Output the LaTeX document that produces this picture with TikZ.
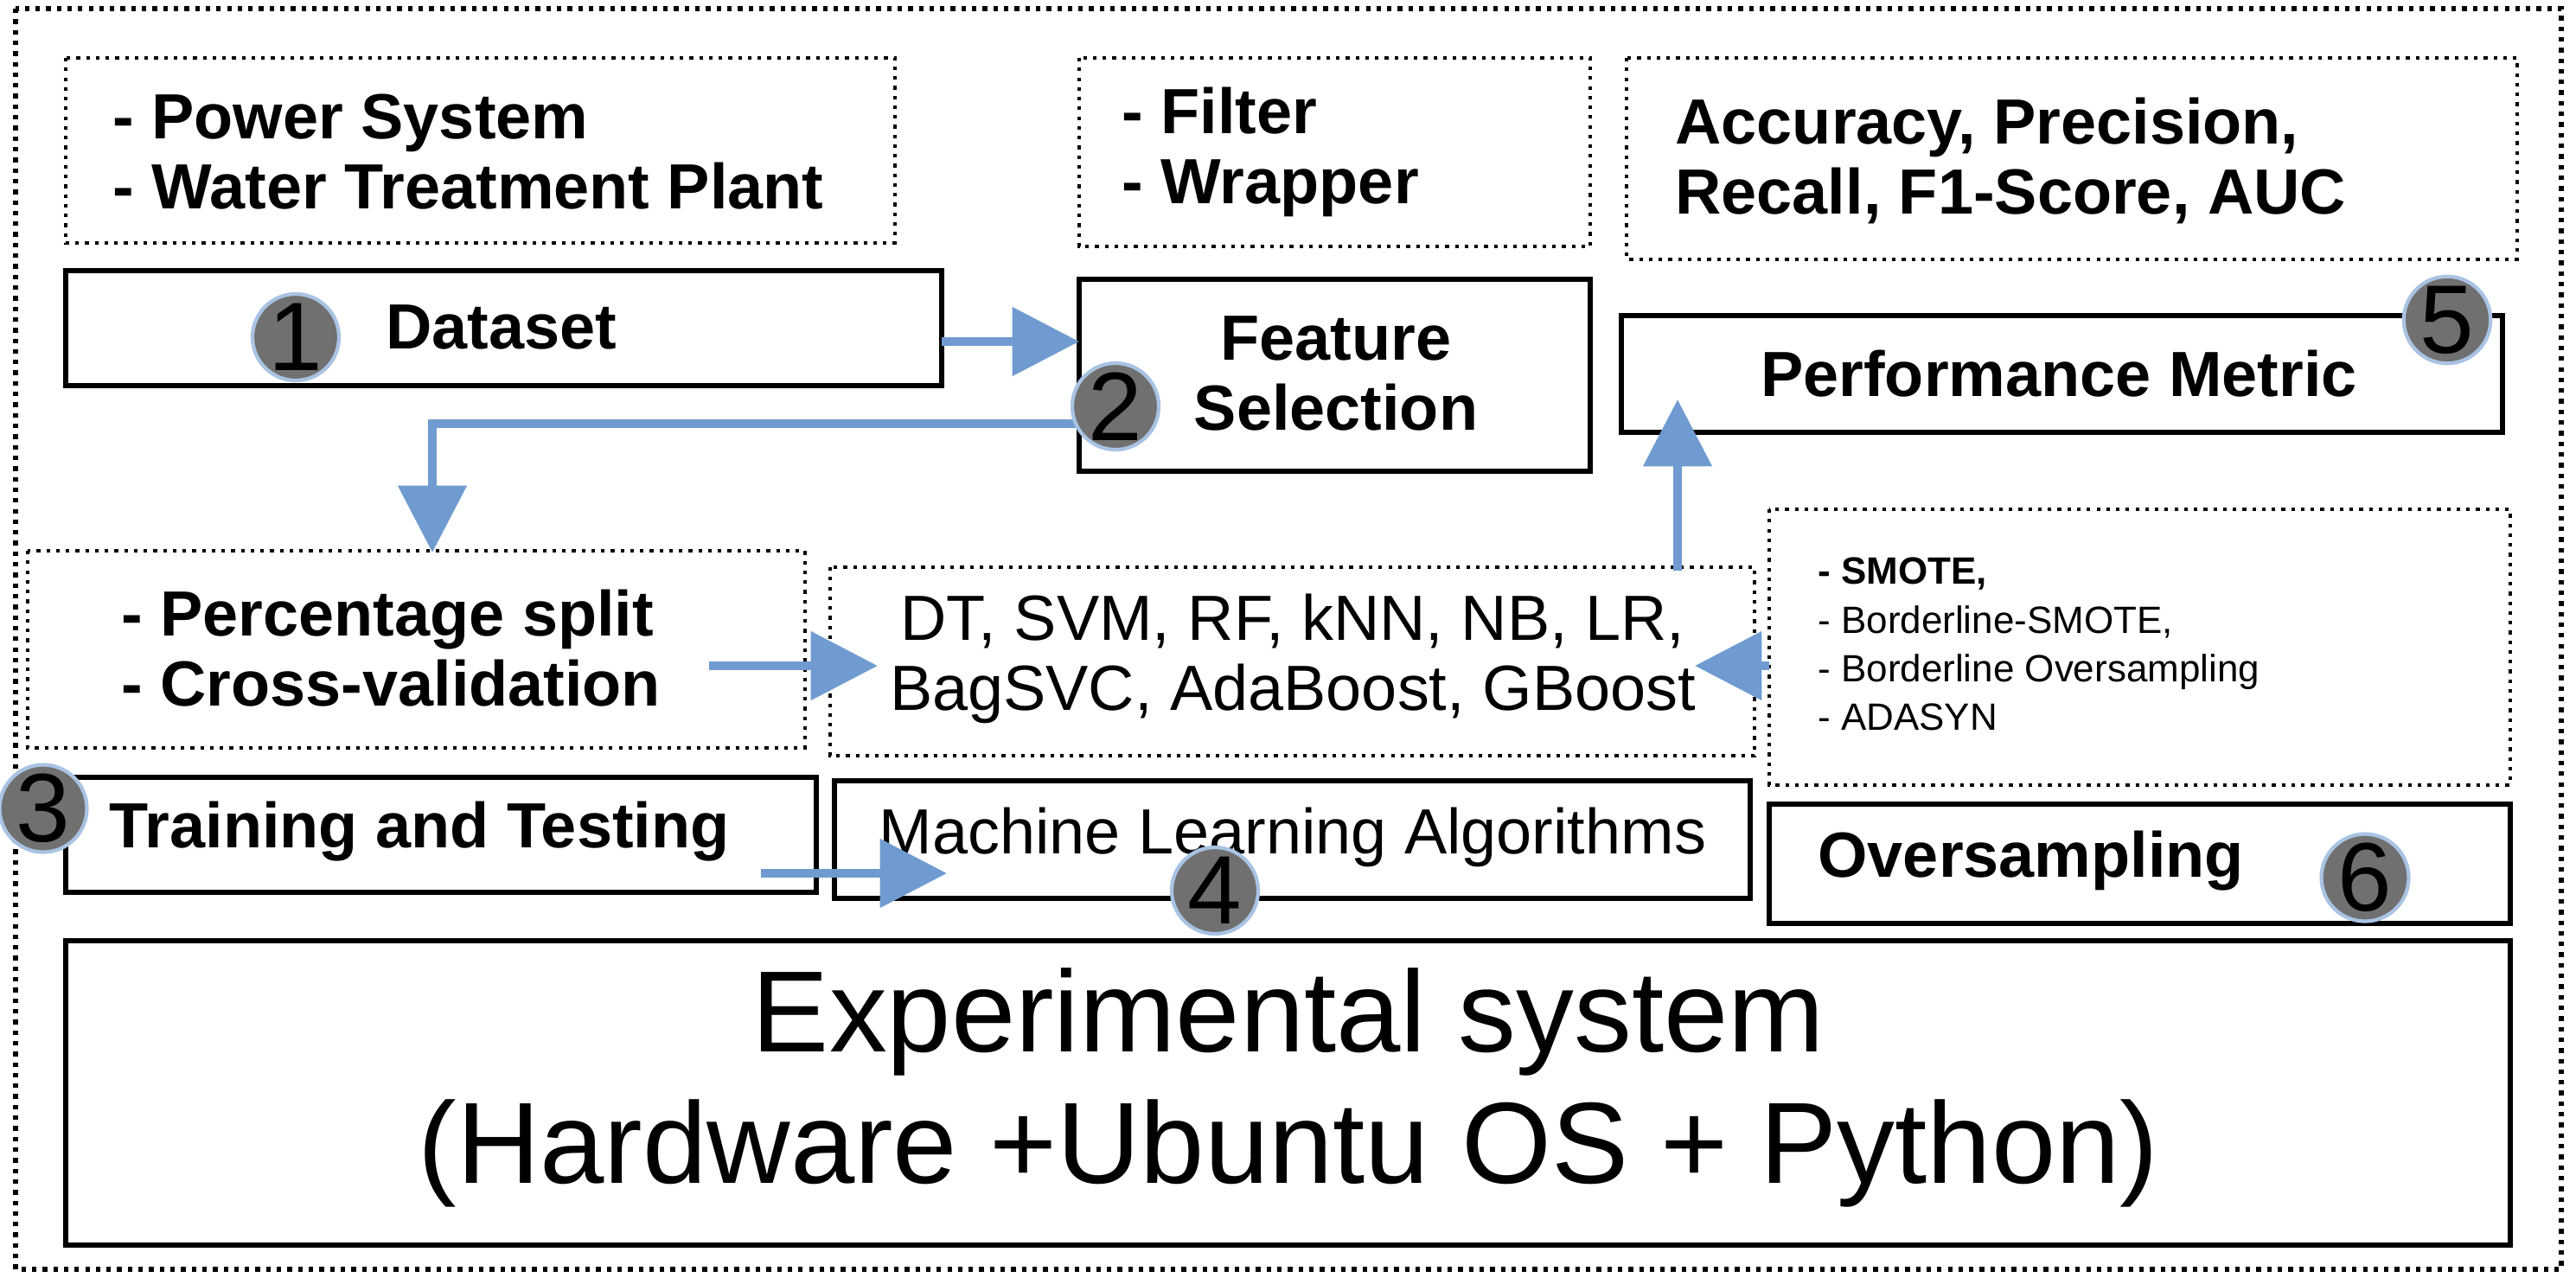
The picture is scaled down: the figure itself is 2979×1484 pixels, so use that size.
\documentclass[tikz,border=0pt]{standalone}
\usepackage{fontspec}
\setmainfont{Liberation Sans}
\usetikzlibrary{arrows.meta}
\definecolor{ab}{HTML}{6F9BD1}
\definecolor{cg}{HTML}{707070}
\begin{document}
\begin{tikzpicture}[x=0.01cm,y=-0.01cm,
 sb/.style={draw,line width=1.6pt},
 db/.style={draw,dotted,line width=1.2pt},
 arr/.style={draw=ab,line width=3pt,-{Triangle[length=22pt,width=22pt]}},
 num/.style={circle,fill=cg,draw=ab!60,line width=1.2pt,minimum size=1.0cm,inner sep=0pt,font=\fontsize{32}{32}\selectfont},
 bt/.style={font=\fontsize{21}{23}\selectfont\bfseries,align=left},
 nt/.style={font=\fontsize{21}{23}\selectfont,align=center}]
\useasboundingbox (0,0) rectangle (2979,1484);
\draw[db,line width=1.5pt] (18,10) rectangle (2962,1468);
% boxes
\draw[db] (76,67) rectangle (1035,281);
\node[bt,anchor=west] (ds1) at (118,176) {- Power System\\- Water Treatment Plant};
\draw[sb] (76,313) rectangle (1089,446);
\node[bt] (ds) at (580,378) {Dataset};
\coordinate (dsr) at (1089,395);
\draw[db] (1248,67) rectangle (1839,285);
\node[bt,anchor=west] (fs1) at (1285,176) {- Filter\\- Wrapper};
\draw[sb] (1248,323) rectangle (1839,545);
\node[bt,align=center] (fs) at (1545,432) {Feature\\Selection};
\coordinate (fsl) at (1248,395);
\coordinate (fsd) at (1250,490);
\draw[db] (1881,67) rectangle (2911,300);
\node[bt,anchor=west] (pm1) at (1925,186) {Accuracy, Precision,\\Recall, F1-Score, AUC};
\draw[sb] (1875,365) rectangle (2894,500);
\node[bt] (pm) at (2381,432) {Performance Metric};
\coordinate (pmb) at (1940,462);
\draw[db] (32,637) rectangle (931,865);
\node[bt,anchor=west] (tt1) at (128,750) {- Percentage split\\- Cross-validation};
\coordinate (tt1t) at (500,639);
\coordinate (tt1r) at (820,770);
\draw[sb] (76,899) rectangle (944,1032);
\node[bt] (tt) at (485,962) {Training and Testing};
\coordinate (ttr) at (880,1010);
\draw[db] (960,656) rectangle (2029,874);
\node[nt] (ml1) at (1495,762) {DT, SVM, RF, kNN, NB, LR,\\ BagSVC, AdaBoost, GBoost};
\coordinate (ml1l) at (1015,770);
\coordinate (ml1r) at (1960,770);
\coordinate (ml1t) at (1940,660);
\draw[sb] (965,903) rectangle (2024,1039);
\node[nt] (ml) at (1495,968) {Machine Learning Algorithms};
\coordinate (mll) at (1095,1010);
\draw[db] (2046,589) rectangle (2903,908);
\node[font=\fontsize{12.5}{16}\selectfont,align=left,anchor=west] (sm1) at (2090,745) {\textbf{- SMOTE,}\\- Borderline-SMOTE,\\- Borderline Oversampling\\- ADASYN};
\coordinate (sm1l) at (2046,770);
\draw[sb] (2046,930) rectangle (2903,1068);
\node[bt,anchor=west] (os) at (2090,996) {Oversampling};
\draw[sb] (76,1088) rectangle (2903,1440);
\node[font=\fontsize{38}{43}\selectfont,align=center] (ex) at (1490,1258) {Experimental system\\(Hardware +Ubuntu OS + Python)};
% arrows
\draw[arr] (dsr) -- (fsl);
\draw[arr] (fsd) -| (tt1t);
\draw[arr] (tt1r) -- (ml1l);
\draw[arr] (sm1l) -- (ml1r);
\draw[arr] (ml1t) -- (pmb);
\draw[arr] (ttr) -- (mll);
% numbers
\node[num] (n1) at (342,390) {1};
\node[num] (n2) at (1290,470) {2};
\node[num] (n3) at (50,935) {3};
\node[num] (n4) at (1405,1030) {4};
\node[num] (n5) at (2830,370) {5};
\node[num] (n6) at (2735,1015) {6};
\end{tikzpicture}
\end{document}
